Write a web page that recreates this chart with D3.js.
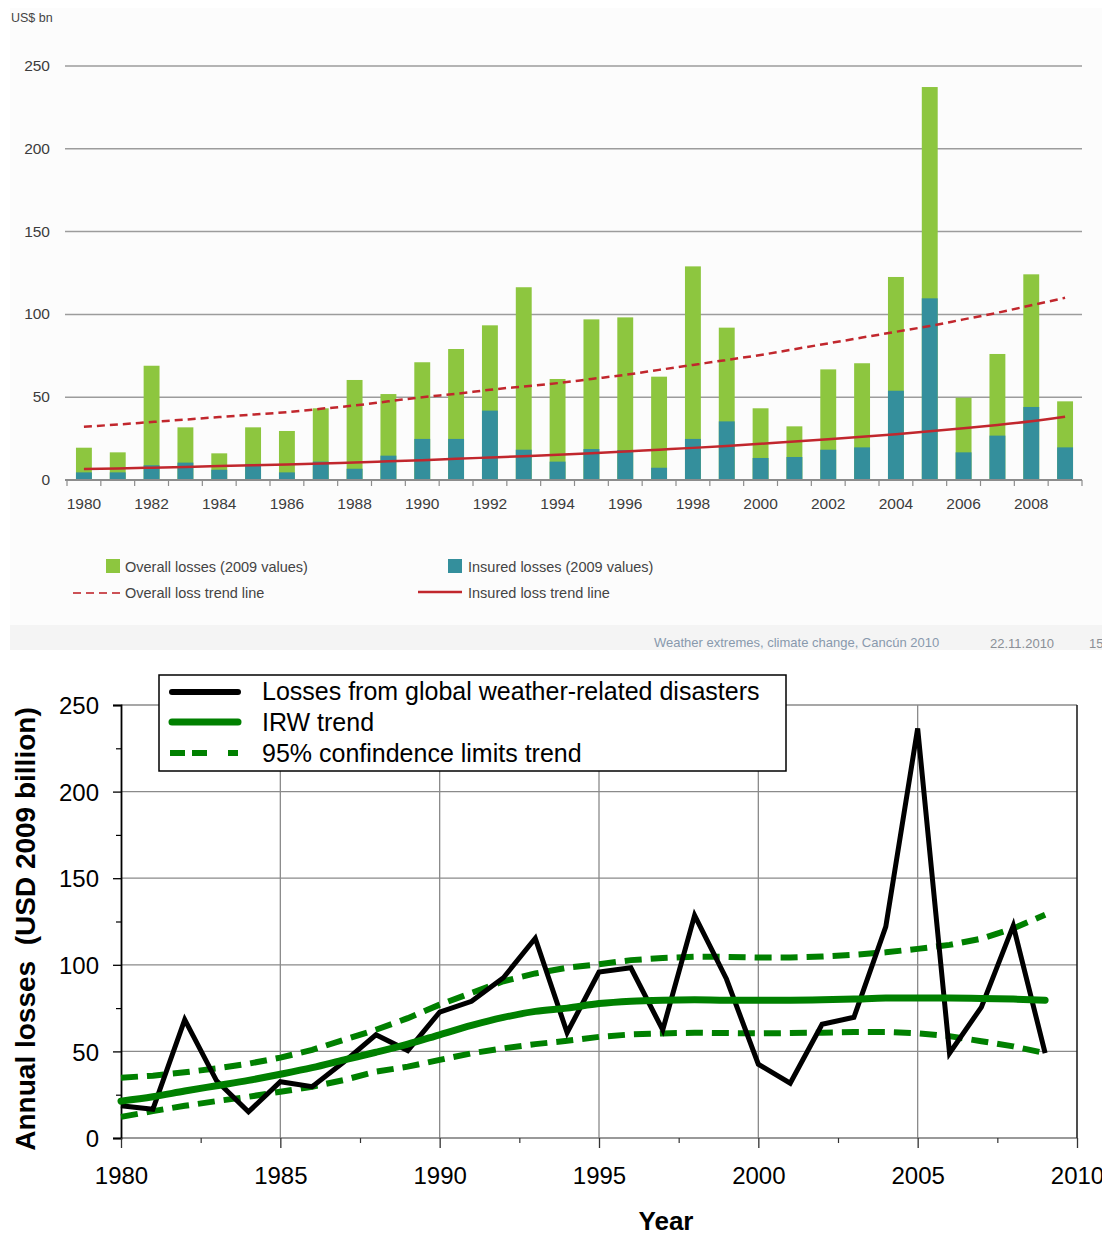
<!DOCTYPE html>
<html lang="en">
<head>
<meta charset="UTF-8">
<title>Weather-related losses</title>
<style>
  body { margin: 0; background: #fff; }
  svg { display: block; font-family: "Liberation Sans", Arial, sans-serif; }
</style>
</head>
<body>
<svg width="1102" height="1235"></svg>
<script src="https://d3js.org/d3.v7.min.js"></script>
<script>
// ---- data (US$ bn, 2009 values) ----
const years = d3.range(1980, 2010);
const overallLosses = [19.5, 16.7, 69, 31.8, 16.1, 31.8, 29.6, 43.3, 60.4, 51.9,
  71.1, 79.1, 93.4, 116.4, 61, 97, 98.2, 62.4, 129, 92,
  43.3, 32.4, 66.8, 70.5, 122.6, 237.3, 49.7, 76.1, 124.2, 47.5];
const insuredLosses = [4.6, 4.6, 8.9, 10.5, 6.2, 9.7, 4.6, 11.1, 6.8, 14.7,
  24.8, 24.8, 41.9, 18.3, 11.1, 18.7, 18.1, 7.4, 24.8, 35.4,
  13.3, 13.9, 18.3, 19.7, 53.9, 109.7, 16.7, 26.8, 44.1, 19.7];
const overallTrend = [32.2, 33.5, 35, 36.5, 38, 39.5, 41, 43, 45, 47.5,
  50, 52, 54.5, 56.5, 58.5, 61, 63.5, 66.5, 69.5, 72.5,
  75.5, 79, 82.5, 86, 89.5, 93, 97, 101, 105.5, 110];
const insuredTrend = [6.6, 7, 7.4, 7.9, 8.4, 8.9, 9.4, 10, 10.6, 11.3,
  12, 12.8, 13.6, 14.4, 15.3, 16.2, 17.2, 18.3, 19.4, 20.6,
  21.9, 23.2, 24.6, 26.1, 27.7, 29.4, 31.2, 33.2, 35.5, 38.2];
const topYTicks = [0, 50, 100, 150, 200, 250];

// bottom chart (USD 2009 billion)
const annualLosses = [18.6, 16.6, 68.3, 33, 15.1, 32.5, 29.6, 44, 59.6, 50.5,
  72.7, 78.9, 92.5, 115.3, 60.8, 95.8, 98.3, 62.4, 128.5, 91.8,
  42.6, 31.6, 65.7, 69.7, 122, 236.5, 49, 75.6, 122.6, 49];
const irwTrend = [21.3, 23.8, 27.1, 30.2, 33.3, 36.8, 40.6, 45.1, 49.5, 54.2,
  59.6, 65, 69.6, 73.1, 75, 77.6, 79, 79.6, 79.8, 79.6,
  79.6, 79.6, 79.8, 80.2, 80.8, 80.8, 80.8, 80.6, 80.2, 79.6];
const upperLimit = [34.8, 36, 37.9, 40.2, 42.9, 46.4, 50.9, 56.7, 62.5, 69.2,
  77, 83.8, 90.5, 95, 98.3, 100.3, 102.7, 103.9, 104.6, 104.6,
  104.2, 104.2, 104.8, 105.8, 107.2, 109.2, 111.5, 115.1, 121, 128.9];
const lowerLimit = [12.2, 15.5, 18.6, 21.3, 23.8, 26.7, 29.6, 33.5, 38.3, 41.2,
  45.1, 48.9, 51.8, 54.2, 56.1, 58.4, 59.8, 60.4, 60.8, 60.6,
  60.4, 60.6, 60.8, 61.2, 61.2, 60.4, 58.8, 55.9, 52.9, 49];
const bottomXTicks = [1980, 1985, 1990, 1995, 2000, 2005, 2010];
const bottomYTicks = [0, 50, 100, 150, 200, 250];

const svg = d3.select("svg");

// ================= top chart =================
const GREEN = "#8dc63f", TEAL = "#348f9c", RED = "#c1272d";

svg.append("rect").attr("x", 10).attr("y", 8).attr("width", 1092).attr("height", 617).attr("fill", "#fcfcfc");
svg.append("rect").attr("x", 10).attr("y", 625).attr("width", 1092).attr("height", 25).attr("fill", "#f4f4f4");

const x1 = d3.scaleBand().domain(years).range([67, 1082]).paddingInner(0.53).paddingOuter(0.265);
const y1 = d3.scaleLinear().domain([0, 250]).range([480, 66]);

const upper = svg.append("g");

upper.append("text").attr("x", 11).attr("y", 22).attr("font-size", 12.5).attr("fill", "#444").text("US$ bn");

upper.selectAll(".grid").data(topYTicks.filter(d => d > 0)).join("line")
  .attr("x1", 65).attr("x2", 1082)
  .attr("y1", d => y1(d)).attr("y2", d => y1(d))
  .attr("stroke", "#9c9c9c").attr("stroke-width", 1.5);

upper.selectAll(".ylab").data(topYTicks).join("text")
  .attr("x", 50).attr("y", d => y1(d) + 5)
  .attr("text-anchor", "end").attr("font-size", 15.5).attr("fill", "#3c3c3c")
  .text(d => d);

upper.selectAll(".over").data(years).join("rect")
  .attr("x", d => x1(d)).attr("width", x1.bandwidth())
  .attr("y", (d, i) => y1(overallLosses[i]))
  .attr("height", (d, i) => y1(0) - y1(overallLosses[i]))
  .attr("fill", GREEN);

upper.selectAll(".ins").data(years).join("rect")
  .attr("x", d => x1(d)).attr("width", x1.bandwidth())
  .attr("y", (d, i) => y1(insuredLosses[i]))
  .attr("height", (d, i) => y1(0) - y1(insuredLosses[i]))
  .attr("fill", TEAL);

// x axis
upper.append("line").attr("x1", 65).attr("x2", 1082).attr("y1", 480).attr("y2", 480)
  .attr("stroke", "#8c8c8c").attr("stroke-width", 2);
const bounds = years.map(d => x1(d) - x1.step() * x1.paddingInner() / 2).concat([1082]);
upper.selectAll(".xt").data(bounds).join("line")
  .attr("x1", d => d).attr("x2", d => d).attr("y1", 480).attr("y2", 486)
  .attr("stroke", "#8c8c8c").attr("stroke-width", 1.2);
upper.selectAll(".xlab").data(years.filter(d => d % 2 === 0)).join("text")
  .attr("x", d => x1(d) + x1.bandwidth() / 2).attr("y", 509)
  .attr("text-anchor", "middle").attr("font-size", 15.5).attr("fill", "#3c3c3c")
  .text(d => d);

const xc = d => x1(d) + x1.bandwidth() / 2;
upper.append("path").datum(years)
  .attr("d", d3.line().x(xc).y((d, i) => y1(overallTrend[i])).curve(d3.curveMonotoneX))
  .attr("fill", "none").attr("stroke", RED).attr("stroke-width", 2.5).attr("stroke-dasharray", "8,5");
upper.append("path").datum(years)
  .attr("d", d3.line().x(xc).y((d, i) => y1(insuredTrend[i])).curve(d3.curveMonotoneX))
  .attr("fill", "none").attr("stroke", RED).attr("stroke-width", 2.5);

// legend
const lg = upper.append("g").attr("font-size", 14.5).attr("fill", "#444");
lg.append("rect").attr("x", 106).attr("y", 559).attr("width", 14).attr("height", 14).attr("fill", GREEN);
lg.append("text").attr("x", 125).attr("y", 572).text("Overall losses (2009 values)");
lg.append("rect").attr("x", 448).attr("y", 559).attr("width", 14).attr("height", 14).attr("fill", TEAL);
lg.append("text").attr("x", 468).attr("y", 572).text("Insured losses (2009 values)");
lg.append("line").attr("x1", 73).attr("x2", 120).attr("y1", 593).attr("y2", 593)
  .attr("stroke", RED).attr("stroke-width", 2).attr("stroke-dasharray", "8,5").attr("opacity", 0.8);
lg.append("text").attr("x", 125).attr("y", 598).text("Overall loss trend line");
lg.append("line").attr("x1", 418).attr("x2", 462).attr("y1", 592).attr("y2", 592)
  .attr("stroke", RED).attr("stroke-width", 2.5);
lg.append("text").attr("x", 468).attr("y", 598).text("Insured loss trend line");

// footer
const ft = upper.append("g").attr("font-size", 13).attr("fill", "#8899ad");
ft.append("text").attr("x", 654).attr("y", 647).text("Weather extremes, climate change, Cancún 2010");
ft.append("text").attr("x", 990).attr("y", 648).attr("fill", "#8a8f96").text("22.11.2010");
ft.append("text").attr("x", 1089).attr("y", 648).attr("fill", "#8a8f96").text("15");

// ================= bottom chart =================
const x2 = d3.scaleLinear().domain([1980, 2010]).range([121, 1077]);
const y2 = d3.scaleLinear().domain([0, 250]).range([1138, 705]);
const lower = svg.append("g");
const DG = "#008000";

lower.selectAll(".vg").data(bottomXTicks.slice(1, -1)).join("line")
  .attr("x1", d => x2(d)).attr("x2", d => x2(d)).attr("y1", y2(0)).attr("y2", y2(250))
  .attr("stroke", "#8a8a8a").attr("stroke-width", 1.3);
lower.selectAll(".hg").data(bottomYTicks.slice(1)).join("line")
  .attr("x1", x2(1980)).attr("x2", x2(2010)).attr("y1", d => y2(d)).attr("y2", d => y2(d))
  .attr("stroke", "#8a8a8a").attr("stroke-width", 1.3);
// bottom edge
lower.append("line").attr("x1", x2(1980)).attr("x2", x2(2010)).attr("y1", y2(0)).attr("y2", y2(0))
  .attr("stroke", "#777").attr("stroke-width", 1.6);
// right edge
lower.append("line").attr("x1", x2(2010)).attr("x2", x2(2010)).attr("y1", y2(0)).attr("y2", y2(250))
  .attr("stroke", "#222").attr("stroke-width", 1.6);

// y axis
const yAxis = lower.append("g").attr("transform", `translate(${x2(1980)},0)`)
  .call(d3.axisLeft(y2).tickValues(bottomYTicks).tickSize(8).tickPadding(14));
yAxis.select(".domain").attr("stroke", "#000").attr("stroke-width", 1.8);
yAxis.selectAll(".tick line").attr("stroke", "#000").attr("stroke-width", 1.3);
yAxis.selectAll("text").attr("font-size", 24).attr("fill", "#000").attr("font-family", "Liberation Sans, Arial, sans-serif").attr("dy", "0.36em");
lower.append("g").attr("transform", `translate(${x2(1980)},0)`)
  .call(d3.axisLeft(y2).tickValues([25, 75, 125, 175, 225]).tickSize(5).tickFormat(""))
  .call(g => g.select(".domain").remove())
  .selectAll(".tick line").attr("stroke", "#000").attr("stroke-width", 1.2);

// x axis
const xAxis = lower.append("g").attr("transform", `translate(0,${y2(0)})`)
  .call(d3.axisBottom(x2).tickValues(bottomXTicks).tickFormat(d3.format("d")).tickSize(10).tickPadding(19));
xAxis.select(".domain").remove();
xAxis.selectAll(".tick line").attr("stroke", "#333").attr("stroke-width", 1.3);
xAxis.selectAll("text").attr("font-size", 24).attr("fill", "#000").attr("font-family", "Liberation Sans, Arial, sans-serif");
lower.append("g").attr("transform", `translate(0,${y2(0)})`)
  .call(d3.axisBottom(x2).tickValues([1982.5, 1987.5, 1992.5, 1997.5, 2002.5, 2007.5]).tickSize(5).tickFormat(""))
  .call(g => g.select(".domain").remove())
  .selectAll(".tick line").attr("stroke", "#333").attr("stroke-width", 1.2);

// titles
lower.append("text").attr("x", 666).attr("y", 1230).attr("text-anchor", "middle")
  .attr("font-size", 26).attr("font-weight", "bold").text("Year");
lower.append("text").attr("transform", "translate(35,929) rotate(-90)").attr("text-anchor", "middle")
  .attr("font-size", 28).attr("font-weight", "bold")
  .text("Annual losses\u00a0\u00a0(USD 2009 billion)");

// series
const line2 = arr => d3.line().x(d => x2(d)).y((d, i) => y2(arr[i]));
lower.append("path").datum(years).attr("d", line2(lowerLimit))
  .attr("fill", "none").attr("stroke", DG).attr("stroke-width", 6).attr("stroke-dasharray", "17,9");
lower.append("path").datum(years).attr("d", line2(upperLimit))
  .attr("fill", "none").attr("stroke", DG).attr("stroke-width", 6).attr("stroke-dasharray", "17,9");
lower.append("path").datum(years).attr("d", line2(annualLosses))
  .attr("fill", "none").attr("stroke", "#000").attr("stroke-width", 5).attr("stroke-linejoin", "miter");
lower.append("path").datum(years).attr("d", d3.line().x(d => x2(d)).y((d, i) => y2(irwTrend[i])).curve(d3.curveMonotoneX))
  .attr("fill", "none").attr("stroke", DG).attr("stroke-width", 7).attr("stroke-linecap", "round");

// legend
const bl = lower.append("g");
bl.append("rect").attr("x", 159).attr("y", 675).attr("width", 627).attr("height", 96)
  .attr("fill", "#fff").attr("stroke", "#000").attr("stroke-width", 1.5);
bl.append("line").attr("x1", 172).attr("x2", 238).attr("y1", 692).attr("y2", 692)
  .attr("stroke", "#000").attr("stroke-width", 6).attr("stroke-linecap", "round");
bl.append("line").attr("x1", 172).attr("x2", 238).attr("y1", 722).attr("y2", 722)
  .attr("stroke", DG).attr("stroke-width", 7).attr("stroke-linecap", "round");
bl.append("line").attr("x1", 170).attr("x2", 240).attr("y1", 753).attr("y2", 753)
  .attr("stroke", DG).attr("stroke-width", 6).attr("stroke-dasharray", "15,7,15,21,10");
const legendLabels = ["Losses from global weather-related disasters", "IRW trend", "95% confindence limits trend"];
bl.selectAll("text").data(legendLabels).join("text")
  .attr("x", 262).attr("y", (d, i) => 700 + i * 31)
  .attr("font-size", 25).attr("fill", "#000").text(d => d);
</script>
</body>
</html>
